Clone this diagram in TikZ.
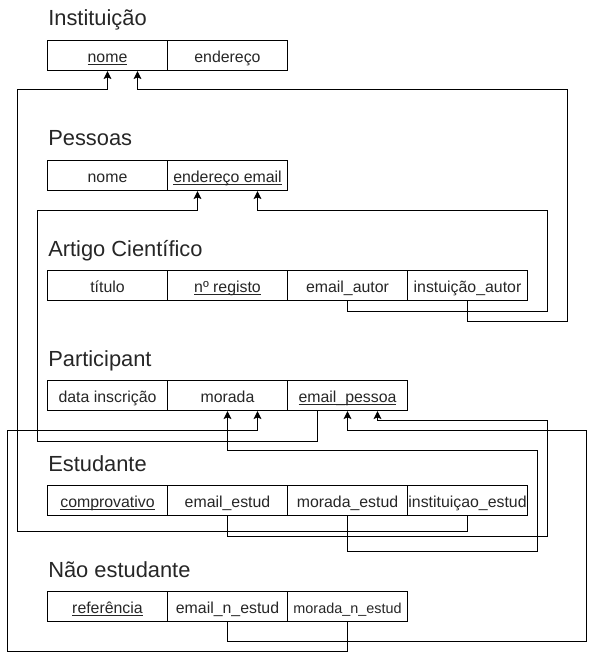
\documentclass[tikz,border=0pt]{standalone}
\usepackage{fontspec}
\setmainfont{Liberation Sans}
\usetikzlibrary{arrows.meta,calc}
\newcommand{\keyu}[1]{\setbox0\hbox{#1}\rlap{\rule[-1.7pt]{\wd0}{0.6pt}}\box0}
\begin{document}
\begin{tikzpicture}[x=0.75pt,y=-0.75pt,
 cell/.style={draw, line width=0.75pt, anchor=north west, minimum width=90pt, minimum height=22.5pt, inner sep=0pt, font=\fontsize{11.9}{13}\selectfont, text height=11.4pt, text depth=0.4pt, text=black!85},
 smallcell/.style={cell, font=\fontsize{10.8}{12}\selectfont},
 ttl/.style={anchor=base west, inner sep=0pt, font=\fontsize{16.4}{19}\selectfont, text=black!85},
 conn/.style={line width=0.75pt},
 arr/.style={conn, -{Stealth[length=6pt,width=5.8pt,inset=1.2pt]}}]
\useasboundingbox (0,0) rectangle (596,659);

% Instituição
\node[ttl] (t1) at (48,26) {Instituição};
\node[cell] (i1) at (47,40) {\keyu{nome}};
\node[cell] (i2) at (167,40) {endereço};

% Pessoas
\node[ttl] (t2) at (48,146) {Pessoas};
\node[cell] (p1) at (47,160) {nome};
\node[cell] (p2) at (167,160) {\keyu{endereço email}};

% Artigo Científico
\node[ttl] (t3) at (48,256) {Artigo Científico};
\node[cell] (a1) at (47,270) {título};
\node[cell] (a2) at (167,270) {\keyu{nº registo}};
\node[cell] (a3) at (287,270) {email\_autor};
\node[cell] (a4) at (407,270) {instuição\_autor};

% Participant
\node[ttl] (t4) at (48,366) {Participant};
\node[cell] (pa1) at (47,380) {data inscrição};
\node[cell] (pa2) at (167,380) {morada};
\node[cell] (pa3) at (287,380) {\keyu{email\_pessoa}};

% Estudante
\node[ttl] (t5) at (48,471) {Estudante};
\node[cell] (e1) at (47,485) {\keyu{comprovativo}};
\node[cell] (e2) at (167,485) {email\_estud};
\node[cell] (e3) at (287,485) {morada\_estud};
\node[cell] (e4) at (407,485) {instituiçao\_estud};

% Não estudante
\node[ttl] (t6) at (48,577) {Não estudante};
\node[cell] (n1) at (47,591) {\keyu{referência}};
\node[cell] (n2) at (167,591) {email\_n\_estud};
\node[smallcell] (n3) at (287,591) {morada\_n\_estud};

% offset anchor points
\coordinate (i1r) at ($(i1.south)+(30,0)$);
\coordinate (p2l) at ($(p2.south)+(-30,0)$);
\coordinate (p2r) at ($(p2.south)+(30,0)$);
\coordinate (pa2r) at ($(pa2.south)+(30,0)$);
\coordinate (pa3l) at ($(pa3.south)+(-30,0)$);
\coordinate (pa3r) at ($(pa3.south)+(30,0)$);

% connectors
\draw[arr] (e4.south) -- ++(0,15) -| (17,90) -| (i1.south);
\draw[arr] (a4.south) -- ++(0,20) -| (567,90) -| (i1r);
\draw[arr] (a3.south) -- ++(0,10) -| (547,210) -| (p2r);
\draw[arr] (pa3l) -- ++(0,30) -| (37,210) -| (p2l);
\draw[arr] (e2.south) -- ++(0,20) -| (547,420) -| (pa3r);
\draw[arr] (e3.south) -- ++(0,35) -| (537,450) -| (pa2.south);
\draw[arr] (n2.south) -- ++(0,19) -| (586,430) -| (pa3.south);
\draw[arr] (n3.south) -- ++(0,29) -| (7,430) -| (pa2r);
\end{tikzpicture}
\end{document}
